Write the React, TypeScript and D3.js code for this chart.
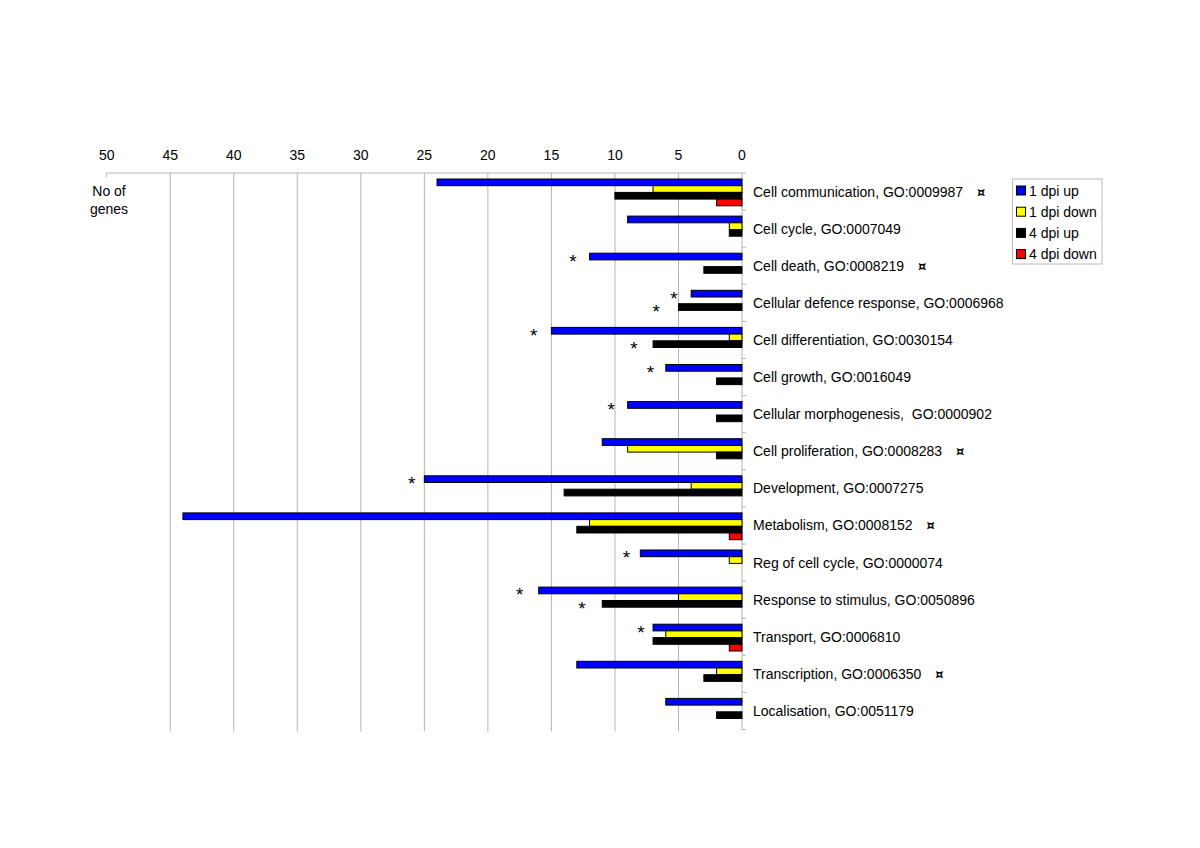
import React, { useEffect } from "react";
import * as d3 from "d3";

const categories = [
  "Cell communication, GO:0009987",
  "Cell cycle, GO:0007049",
  "Cell death, GO:0008219",
  "Cellular defence response, GO:0006968",
  "Cell differentiation, GO:0030154",
  "Cell growth, GO:0016049",
  "Cellular morphogenesis,  GO:0000902",
  "Cell proliferation, GO:0008283",
  "Development, GO:0007275",
  "Metabolism, GO:0008152",
  "Reg of cell cycle, GO:0000074",
  "Response to stimulus, GO:0050896",
  "Transport, GO:0006810",
  "Transcription, GO:0006350",
  "Localisation, GO:0051179",
];

const seriesNames = ["1 dpi up", "1 dpi down", "4 dpi up", "4 dpi down"];
const seriesColors = ["#0000ff", "#ffff00", "#000000", "#ff0000"];

const up1 = [24, 9, 12, 4, 15, 6, 9, 11, 25, 44, 8, 16, 7, 13, 6];
const down1 = [7, 1, 0, 0, 1, 0, 0, 9, 4, 12, 1, 5, 6, 2, 0];
const up4 = [10, 1, 3, 5, 7, 2, 2, 2, 14, 13, 0, 11, 7, 3, 2];
const down4 = [2, 0, 0, 0, 0, 0, 0, 0, 0, 1, 0, 0, 1, 0, 0];

const xTicks = [50, 45, 40, 35, 30, 25, 20, 15, 10, 5, 0];

// categories carrying the "¤" marker
const markedCategories = [0, 2, 7, 9, 13];

// asterisks: [category index, series index, position in gene units]
const asterisks: [number, number, number][] = [
  [2, 0, 13.3],
  [3, 0, 5.35],
  [3, 2, 6.75],
  [4, 0, 16.4],
  [4, 2, 8.5],
  [5, 0, 7.2],
  [6, 0, 10.3],
  [8, 0, 26.0],
  [10, 0, 9.1],
  [11, 0, 17.5],
  [11, 2, 12.6],
  [12, 0, 7.95],
];

const allSeries = [up1, down1, up4, down4];

export default function App() {
  useEffect(() => {
    document.body.style.margin = "0";
  }, []);

  const W = 1200;
  const H = 848;
  const x = d3.scaleLinear().domain([50, 0]).range([106.7, 742]);
  const y = d3.scaleBand<string>().domain(categories).range([173, 729.5]).padding(0);
  const groupH = 26.8;
  const sub = d3
    .scaleBand<string>()
    .domain(seriesNames)
    .range([0, groupH])
    .padding(0);
  const offset = 6;
  const font = "'Liberation Sans', Arial, Helvetica, sans-serif";
  const gridColor = "#b4b4b4";
  const yTop = 173;
  const yBottom = 729.5;
  const fs = 14;

  return (
    <svg width={W} height={H} style={{ display: "block", background: "#fff" }} fontFamily={font}>
      {/* gridlines */}
      {xTicks
        .filter((t) => t !== 0 && t !== 50)
        .map((t) => (
          <line key={"g" + t} x1={x(t)} x2={x(t)} y1={yTop} y2={yBottom + 2} stroke={gridColor} strokeWidth={1} />
        ))}
      {/* top axis line */}
      <line x1={x(50)} x2={x(0)} y1={yTop} y2={yTop} stroke={gridColor} strokeWidth={1} />
      <line x1={x(50)} x2={x(50)} y1={yTop} y2={yTop + 4} stroke={gridColor} strokeWidth={1} />
      {/* tick labels */}
      {xTicks.map((t) => (
        <text key={"t" + t} x={x(t)} y={160} textAnchor="middle" fontSize={fs} fill="#000">
          {t}
        </text>
      ))}
      {/* category axis */}
      <line x1={x(0)} x2={x(0)} y1={yTop} y2={yBottom} stroke={gridColor} strokeWidth={1} />
      {categories.map((c) => (
        <line key={"ct" + c} x1={x(0)} x2={x(0) + 4} y1={y(c)!} y2={y(c)!} stroke={gridColor} strokeWidth={1} />
      ))}
      <line x1={x(0)} x2={x(0) + 4} y1={yBottom} y2={yBottom} stroke={gridColor} strokeWidth={1} />

      {/* bars */}
      {categories.map((c, ci) =>
        allSeries.map((s, si) => {
          const v = s[ci];
          if (!v) return null;
          const y0 = y(c)! + offset + sub(seriesNames[si])!;
          return (
            <rect
              key={c + si}
              x={x(v)}
              y={y0}
              width={x(0) - x(v)}
              height={sub.bandwidth()}
              fill={seriesColors[si]}
              stroke="#000"
              strokeWidth={1}
            />
          );
        })
      )}

      {/* asterisks */}
      {asterisks.map(([ci, si, v], i) => {
        const cy = y(categories[ci])! + offset + sub(seriesNames[si])! + sub.bandwidth() / 2;
        return (
          <text key={"a" + i} x={x(v)} y={cy + 11} textAnchor="middle" fontSize={19} fill="#000">
            *
          </text>
        );
      })}

      {/* category labels */}
      {categories.map((c, ci) => (
        <text key={"l" + c} x={753} y={y(c)! + y.bandwidth() / 2 + 5} fontSize={fs} fill="#000" style={{ whiteSpace: "pre" }}>
          {c}
          {markedCategories.includes(ci) ? (
            <tspan dx={14} fontWeight="bold" fontSize={13} fontFamily="'DejaVu Sans', sans-serif">
              ¤
            </tspan>
          ) : null}
        </text>
      ))}

      {/* axis title */}
      <text x={109} y={196} textAnchor="middle" fontSize={fs}>
        No of
      </text>
      <text x={109} y={214} textAnchor="middle" fontSize={fs}>
        genes
      </text>

      {/* legend */}
      <rect x={1012.5} y={179} width={89.5} height={85} fill="#fff" stroke="#bbb" strokeWidth={1} />
      {seriesNames.map((n, i) => {
        const cy = 190.5 + i * 21.2;
        return (
          <g key={"lg" + n}>
            <rect x={1016.5} y={cy - 4.5} width={9} height={9} fill={seriesColors[i]} stroke="#000" strokeWidth={1} />
            <text x={1029} y={cy + 5} fontSize={fs}>
              {n}
            </text>
          </g>
        );
      })}
    </svg>
  );
}
